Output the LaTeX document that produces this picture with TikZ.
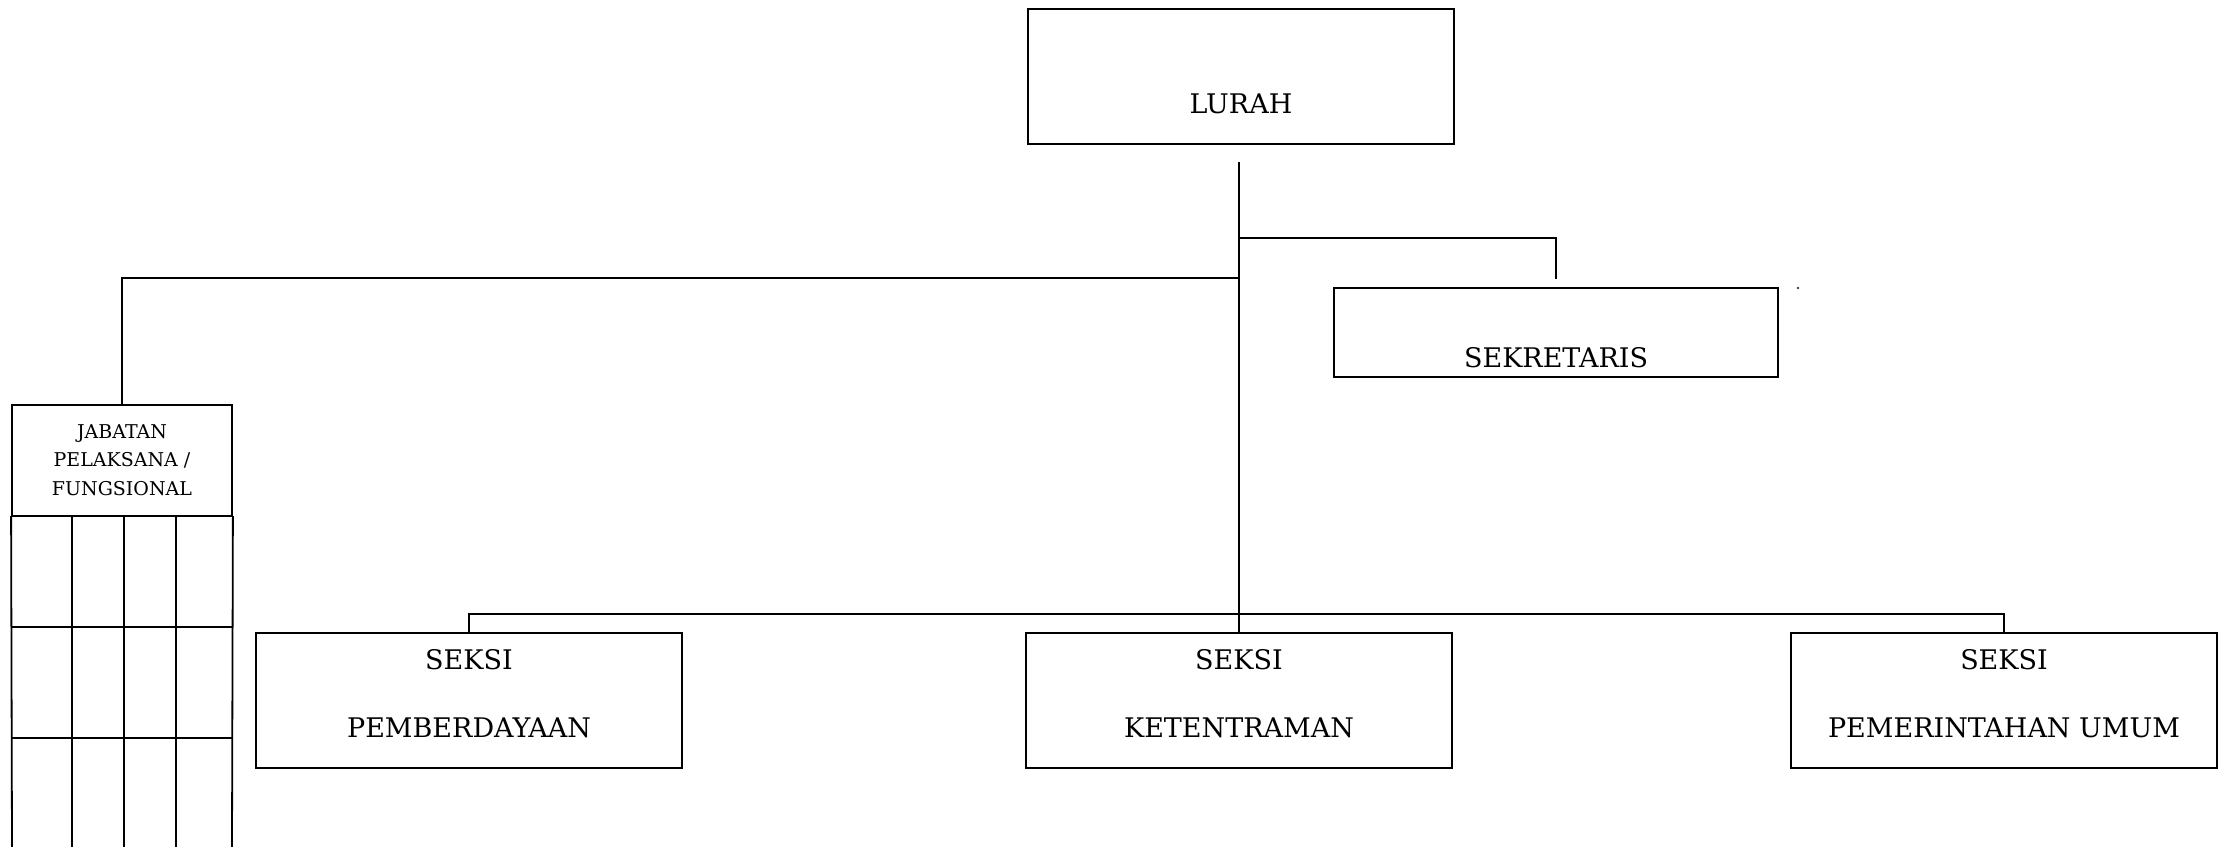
\documentclass[tikz,border=0pt]{standalone}
\usepackage{fontspec}
\setmainfont{DejaVu Serif}
\tikzstyle{kotak}=[draw,line width=1.8pt,inner sep=0pt,
        font=\fontsize{27}{32}\selectfont]
\tikzstyle{kecil}=[kotak,font=\fontsize{19}{28.5}\selectfont]
\tikzstyle{garis}=[line width=1.8pt]
\tikzstyle{grid}=[garis,line cap=rect]

\begin{document}
\begin{tikzpicture}[x=1pt,y=-1pt]
\useasboundingbox (0,0) rectangle (2222,846);
\node[kotak,minimum width=426pt,text height=104pt,text depth=31pt] (lurah) at (1241,76.5) {LURAH};
\node[kotak,minimum width=444pt,text height=79pt,text depth=10pt] (sekretaris) at (1556,332.5) {SEKRETARIS};
\node[kecil,minimum width=220pt,text height=33pt,text depth=78pt] (jabatan) at (122,460.5)
  {\begin{tabular}[t]{@{}c@{}}JABATAN\\PELAKSANA /\\FUNGSIONAL\end{tabular}};
\node[kotak,minimum width=426pt,text height=36pt,text depth=99pt] (pemberdayaan) at (469,700.5)
  {\begin{tabular}[t]{@{}c@{}}SEKSI\\[36pt]PEMBERDAYAAN\end{tabular}};
\node[kotak,minimum width=426pt,text height=36pt,text depth=99pt] (ketentraman) at (1239,700.5)
  {\begin{tabular}[t]{@{}c@{}}SEKSI\\[36pt]KETENTRAMAN\end{tabular}};
\node[kotak,minimum width=426pt,text height=36pt,text depth=99pt] (pemerintahan) at (2004,700.5)
  {\begin{tabular}[t]{@{}c@{}}SEKSI\\[36pt]PEMERINTAHAN UMUM\end{tabular}};
\coordinate (pusat) at (1239,162);
\coordinate (cabangsek) at (1239,238);
\coordinate (ujungsek) at (1556,279);
\coordinate (cabangjab) at (1239,278);
\coordinate (bus) at (1239,614);
%garis penghubung
\draw[garis] (pusat) -- (ketentraman);
\draw[garis] (cabangsek) -| (ujungsek);
\draw[garis] (cabangjab) -| (jabatan);
\draw[garis] (pemberdayaan) |- (bus) -| (pemerintahan);
%tabel jabatan
\draw[grid] (jabatan.south west) -- (12,846);
\draw[grid] (jabatan.south east) -- (232,846);
\foreach \x in {72,124,176}
  \draw[grid] (\x,516) -- (\x,846);
\foreach \y in {627,738}
  \draw[grid] (12,\y) -- (232,\y);
\fill (1798,288) circle (1.2pt);
\end{tikzpicture}
\end{document}
